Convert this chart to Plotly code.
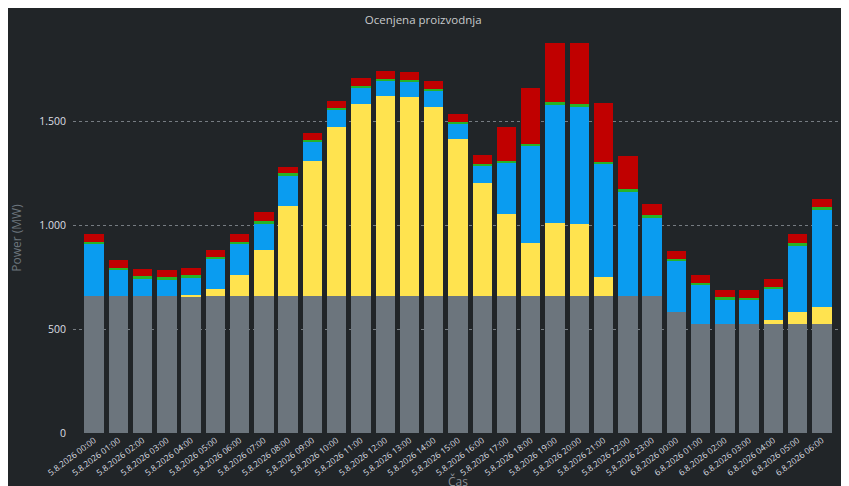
import plotly.graph_objects as go

# hourly labels, 5.8. 00:00 .. 6.8. 06:00
hours = [
    "5.8.2026 00:00", "5.8.2026 01:00", "5.8.2026 02:00", "5.8.2026 03:00",
    "5.8.2026 04:00", "5.8.2026 05:00", "5.8.2026 06:00", "5.8.2026 07:00",
    "5.8.2026 08:00", "5.8.2026 09:00", "5.8.2026 10:00", "5.8.2026 11:00",
    "5.8.2026 12:00", "5.8.2026 13:00", "5.8.2026 14:00", "5.8.2026 15:00",
    "5.8.2026 16:00", "5.8.2026 17:00", "5.8.2026 18:00", "5.8.2026 19:00",
    "5.8.2026 20:00", "5.8.2026 21:00", "5.8.2026 22:00", "5.8.2026 23:00",
    "6.8.2026 00:00", "6.8.2026 01:00", "6.8.2026 02:00", "6.8.2026 03:00",
    "6.8.2026 04:00", "6.8.2026 05:00", "6.8.2026 06:00",
]

# MW per source (stack order bottom -> top)
base = [657, 657, 657, 657, 657, 657, 657, 657, 657, 657, 657, 657, 657, 657, 657, 657,
        657, 657, 657, 657, 657, 657, 657, 657, 580, 523, 523, 523, 523, 523, 523]
solar = [0, 0, 0, 0, 5, 35, 104, 224, 436, 649, 814, 923, 965, 957, 912, 756,
         546, 396, 255, 354, 348, 93, 0, 0, 0, 0, 0, 0, 19, 57, 81]
hydro = [250, 127, 83, 79, 85, 145, 148, 126, 144, 95, 82, 79, 72, 72, 74, 73,
         81, 247, 469, 566, 562, 542, 502, 379, 246, 187, 116, 115, 149, 320, 470]
wind = [13, 11, 15, 14, 11, 11, 11, 14, 12, 10, 10, 11, 9, 11, 11, 11,
        9, 8, 10, 13, 13, 10, 13, 11, 12, 13, 13, 12, 12, 15, 13]
gas = [35, 35, 32, 34, 34, 32, 38, 40, 30, 32, 35, 37, 37, 39, 40, 37,
       44, 165, 266, 287, 294, 286, 162, 53, 37, 35, 36, 38, 37, 40, 38]

BG = "#212528"

fig = go.Figure()
for values, name, color in [
    (base, "Pasovna", "#6c757d"),
    (solar, "Sonce", "#ffe34f"),
    (hydro, "Voda", "#0a9cf0"),
    (wind, "Veter", "#27b327"),
    (gas, "Plin", "#c00000"),
]:
    fig.add_trace(go.Bar(
        x=hours, y=values, name=name,
        marker=dict(color=color, line=dict(width=0)),
    ))

# page body adds ~8px offset, margins compensate for it
fig.update_layout(
    barmode="stack",
    bargap=0.2,
    showlegend=False,
    separators=",.",
    width=849,
    height=486,
    paper_bgcolor=BG,
    plot_bgcolor=BG,
    font=dict(family="Open Sans, Noto Sans, sans-serif", color="#dcdfe2", size=11),
    title=dict(text="Ocenjena proizvodnja", x=0.489, xanchor="center",
               y=0.975, yanchor="middle",
               font=dict(size=11.5, color="#c8cacc")),
    margin=dict(l=65, r=15, t=35, b=61),
)

fig.update_xaxes(
    type="category",
    range=[-0.87, 30.83],
    tickangle=-37,
    tickfont=dict(size=8.5),
    showgrid=False,
    automargin=False,
)
fig.update_yaxes(
    range=[0, 1875],
    tickvals=[0, 500, 1000, 1500],
    tickformat=",d",
    tickfont=dict(size=10.5),
    showgrid=True,
    gridcolor="#767c82",
    griddash="dot",
    gridwidth=1,
    zeroline=False,
    automargin=False,
    ticklabelstandoff=6,
    title=dict(text="Power (MW)", font=dict(size=12, color="#6c757d"), standoff=27),
)

# x axis title sits below the rotated labels, at the panel's lower edge
fig.add_annotation(text="Čas", xref="paper", yref="paper", x=0.5, y=-0.125,
                   xanchor="center", yanchor="middle", showarrow=False,
                   font=dict(size=12, color="#8a9096"))

# thin border at right edge of the panel
fig.add_shape(type="line", xref="paper", yref="paper", x0=1.005, x1=1.005,
              y0=-0.14, y1=1.12, line=dict(color="#41464b", width=1))

fig.write_html("out.html")
